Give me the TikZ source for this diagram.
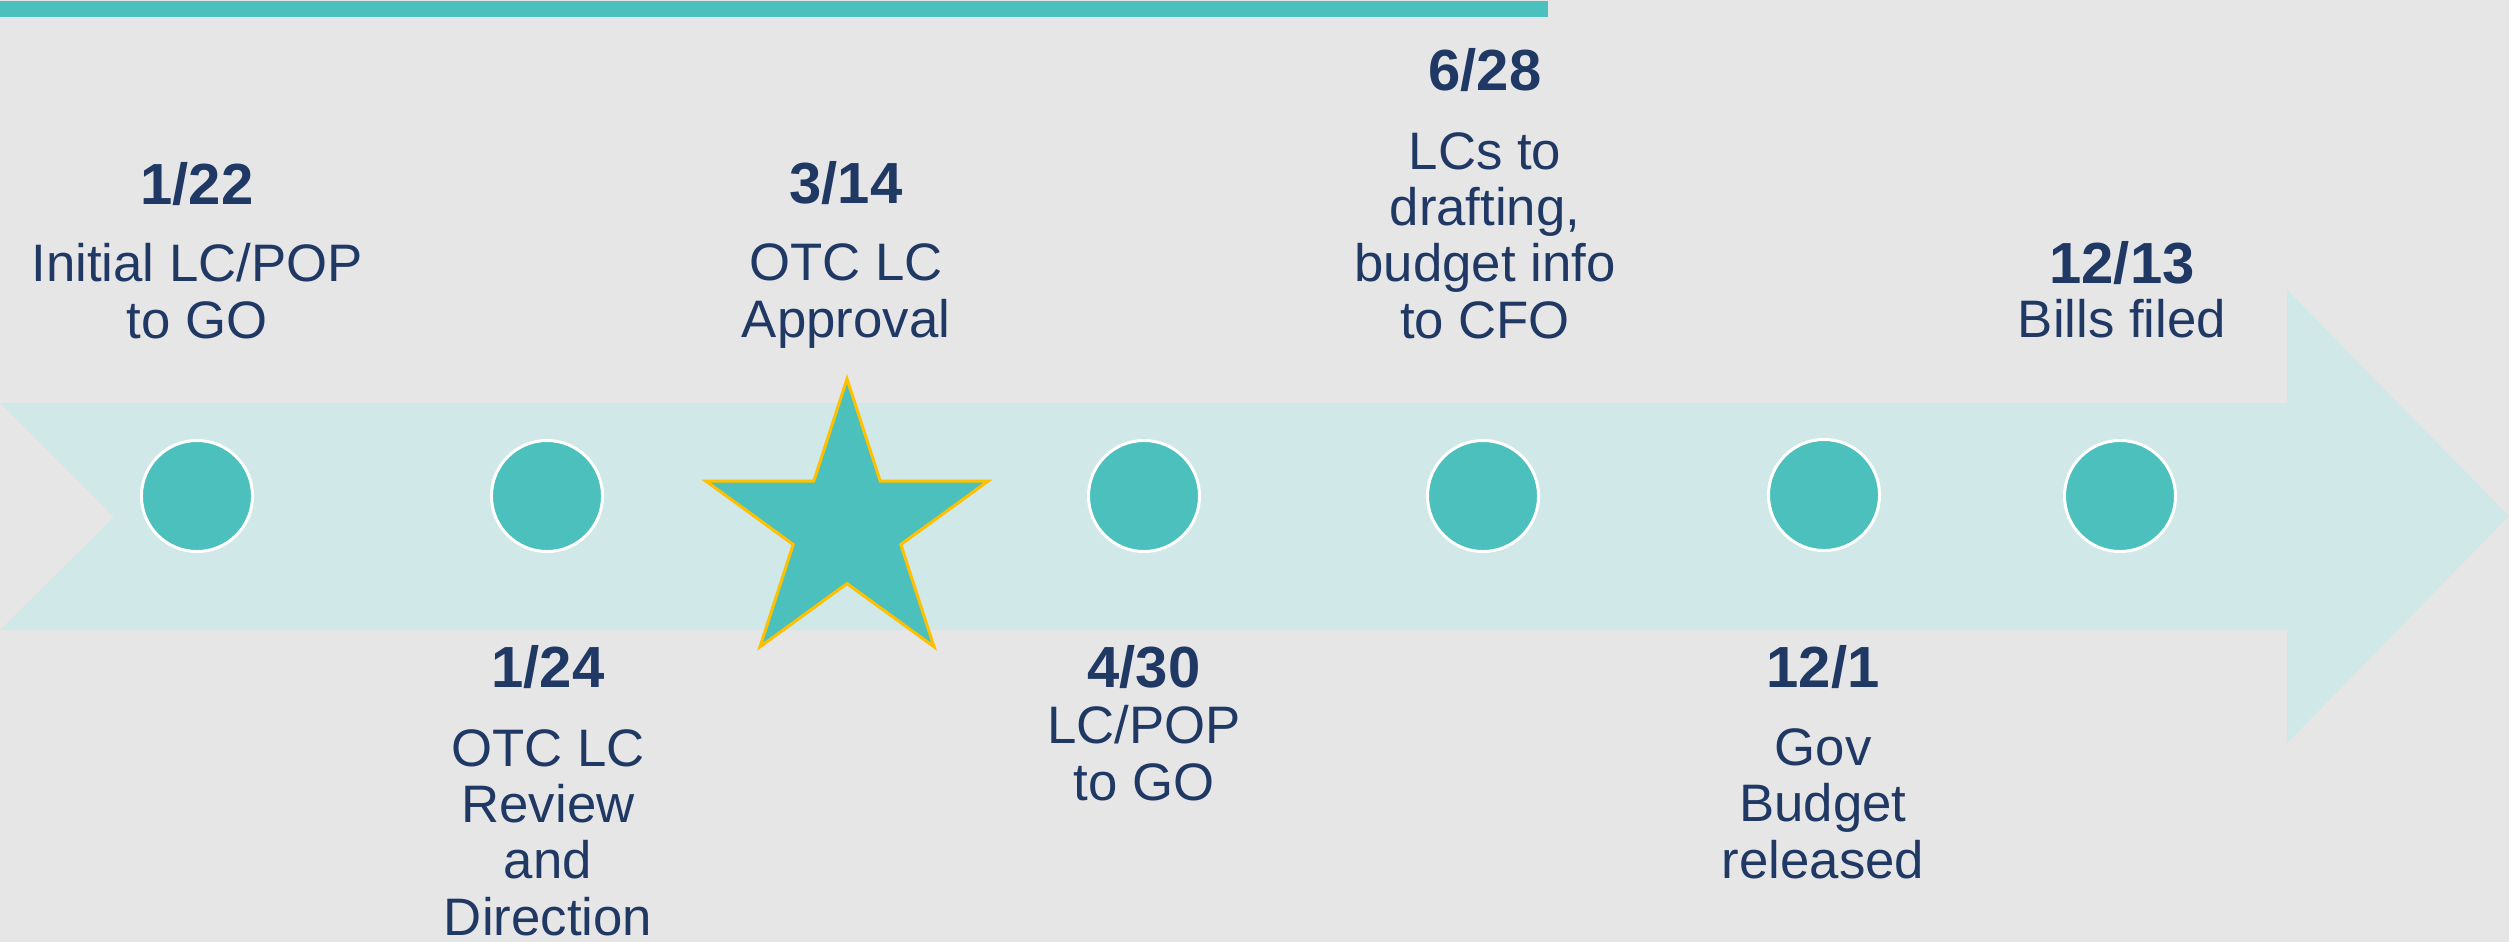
\documentclass[tikz,border=0pt]{standalone}
\usepackage{fontspec}
\setmainfont{Liberation Sans}
\usetikzlibrary{shapes.geometric}
\definecolor{bggrey}{HTML}{E6E6E6}
\definecolor{bandteal}{HTML}{D0E8E8}
\definecolor{dotteal}{HTML}{4BC0BD}
\definecolor{stargold}{HTML}{FFC000}
\definecolor{textnavy}{HTML}{1F3864}
\begin{document}
\begin{tikzpicture}[x=0.01cm, y=-0.01cm,
                    mdot/.style = {shape = circle,
                                   fill = dotteal,
                                   draw = white,
                                   line width = 0.03cm,
                                   inner sep = 0pt,
                                   minimum size = 1.11cm},
                    mstar/.style = {shape = star,
                                    star points = 5,
                                    star point ratio = 2.618,
                                    fill = dotteal,
                                    draw = stargold,
                                    line width = 0.03cm,
                                    inner sep = 0pt,
                                    minimum size = 2.96cm},
                    mdate/.style = {anchor = base,
                                    text = textnavy,
                                    inner sep = 0pt,
                                    font = \fontsize{16.5}{16.5}\selectfont\bfseries},
                    mnote/.style = {anchor = base,
                                    text = textnavy,
                                    align = center,
                                    inner sep = 0pt,
                                    font = \fontsize{15}{16}\selectfont}]
		\useasboundingbox (0,0) rectangle (2509,942);
		% background, top bar and arrow band
		\fill[bggrey] (0,0) rectangle (2509,942);
		\fill[dotteal] (0,1) rectangle (1548,17);
		\fill[bandteal] (0,403) -- (2287,403) -- (2287,290) -- (2509,516) -- (2287,743)
			-- (2287,630) -- (0,630) -- (114,517) -- cycle;
		% milestones
		\node[mdot] (c1) at (197,496) {};
		\node[mdot] (c2) at (547,496) {};
		\node[mstar] (s3) at (847,527) {};
		\node[mdot] (c4) at (1144,496) {};
		\node[mdot] (c5) at (1483,496) {};
		\node[mdot] (c6) at (1824,495) {};
		\node[mdot] (c7) at (2120,496) {};
		% labels above (notes sit on their last line)
		\node[mdate] (d1) at (197,204) {1/22};
		\node[mnote] (n1) at (197,338) {Initial LC/POP\\to GO};
		\node[mdate] (d3) at (846,203) {3/14};
		\node[mnote] (n3) at (846,337) {OTC LC\\Approval};
		\node[mdate] (d5) at (1485,90) {6/28};
		\node[mnote] (n5) at (1485,338) {LCs to\\drafting,\\budget info\\to CFO};
		\node[mdate] (d7) at (2122,283) {12/13};
		\node[mnote] (n7) at (2122,337) {Bills filed};
		% labels below
		\node[mdate] (d2) at (548,687) {1/24};
		\node[mnote] (n2) at (548,935) {OTC LC\\Review\\and\\Direction};
		\node[mdate] (d4) at (1144,687) {4/30};
		\node[mnote] (n4) at (1144,800) {LC/POP\\to GO};
		\node[mdate] (d6) at (1823,687) {12/1};
		\node[mnote] (n6) at (1823,878) {Gov\\Budget\\released};
	\end{tikzpicture}
\end{document}
